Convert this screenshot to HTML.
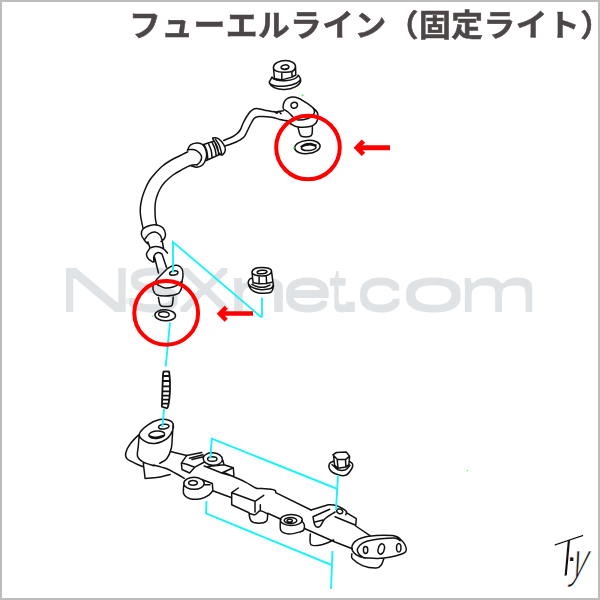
<!DOCTYPE html>
<html lang="ja">
<head>
<meta charset="utf-8">
<title>フューエルライン（固定ライト）</title>
<style>
html,body{margin:0;padding:0;background:#fff;}
body{width:600px;height:600px;overflow:hidden;position:relative;}
#frame{position:absolute;left:0;top:0;width:600px;height:600px;box-sizing:border-box;border:2px solid #bdbcbc;border-top-width:2px;}
#title{position:absolute;left:129px;top:4px;white-space:nowrap;font-family:"Liberation Sans","Noto Sans CJK JP",sans-serif;font-weight:700;font-size:30px;line-height:44px;letter-spacing:0.4px;color:#4c4647;-webkit-text-stroke:0.5px #4c4647;transform-origin:0 50%;transform:scale(1.06,1.02);}
#wm{position:absolute;left:0;top:0;width:600px;height:600px;font-family:"Liberation Sans",sans-serif;font-size:57.6px;line-height:57.6px;color:#dfe3e6;filter:url(#wmf);}
#wm span{position:absolute;top:261.9px;display:block;transform-origin:0 0;white-space:pre;}
#sig{position:absolute;left:0;top:0;width:600px;height:600px;font-family:"Liberation Sans",sans-serif;color:#111;}
#sig span{position:absolute;display:block;white-space:pre;transform-origin:0 100%;-webkit-text-stroke-color:#fff;}
#sig .t{left:548px;top:537px;font-size:55px;line-height:55px;-webkit-text-stroke-width:2.8px;transform:skewY(-18.5deg) skewX(-5.4deg);}
#sig .d{left:566px;top:538.5px;font-size:34px;line-height:34px;transform:none;}
#sig .y{left:566.5px;top:535px;font-size:50px;line-height:50px;-webkit-text-stroke-width:1.3px;transform:skewX(-16deg) scaleX(0.6);}
svg{position:absolute;left:0;top:0;}
</style>
</head>
<body>
<svg width="0" height="0" style="position:absolute"><defs><filter id="wmf" x="0" y="0" width="100%" height="100%" color-interpolation-filters="sRGB"><feMorphology operator="erode" radius="1 0"/><feMorphology operator="dilate" radius="0 1.7"/></filter></defs></svg>
<div id="wm" aria-label="NSXnet.com"><span style="left:56.2px;transform:scaleX(1.915)">N</span><span style="left:123.1px;transform:scaleX(1.556)">S</span><span style="left:177.3px;transform:scaleX(1.437)">X</span><span style="left:225.0px;transform:scaleX(2.078)">n</span><span style="left:280.7px;transform:scaleX(1.650)">e</span><span style="left:328.1px;transform:scaleX(1.231)">t</span><span style="left:335.0px;transform:scaleX(1.933)">.</span><span style="left:355.1px;transform:scaleX(1.675)">c</span><span style="left:400.2px;transform:scaleX(2.081)">o</span><span style="left:456.6px;transform:scaleX(1.725)">m</span></div>
<svg id="art" width="600" height="600" viewBox="0 0 600 600">
<!-- black line art -->
<g id="ink" fill="none" stroke="#111" stroke-width="1.5" stroke-linecap="round" stroke-linejoin="round" style="filter:blur(0.35px)">
<path id="fill_nut2" fill="#fff" stroke="none" d="M252 272.3C252.5 271.7 253.4 269.3 255 268.5C256.6 267.7 259.6 267.4 261.8 267.4C264.1 267.4 266.9 267.7 268.5 268.3C270.1 268.9 270.8 268.7 271.5 271.1C272.2 273.5 272.7 280.2 273 282.8C273.3 285.4 273.6 285 273.4 286.5C273.1 288 272.6 290.7 271.5 291.8C270.4 292.9 268.8 292.8 267 293C265.2 293.2 262.8 293.4 261 293.3C259.2 293.2 257.6 292.9 256 292.3C254.4 291.7 252.5 290.6 251.3 289.5C250.1 288.4 249.5 287.2 249 286C248.5 284.8 248.2 283.2 248.3 282C248.4 280.8 249.1 279.7 249.8 279C250.5 278.3 252.1 279.1 252.5 278C252.9 276.9 252.1 273.2 252 272.3"/>
<path id="fill_banjo2" fill="#fff" stroke="none" d="M157 279C158.7 277.3 164.5 271.2 167 269C169.5 266.8 170.2 266.6 172 266C173.8 265.4 176.3 265 178 265.5C179.7 266 181.2 267.4 182 269C182.8 270.6 183 273 183 275C183 277 182.7 279.5 182 281C181.3 282.5 180.5 283 179 284C177.5 285 175.3 286.3 173 287C170.7 287.7 167.5 288.3 165 288C162.5 287.7 159.5 285.8 158 285C156.5 284.2 156.2 284 156 283C155.8 282 156.8 279.7 157 279"/>
<path id="nut1"  d="M273.4 67.3C273.6 65.9 275.2 63.5 277.3 62.4C279.4 61.3 283.1 60.6 285.7 60.6C288.3 60.6 291.1 61.4 292.7 62.4C294.3 63.4 295.6 65.1 295.5 66.6C295.4 68.1 294.1 70.6 292 71.5C289.9 72.4 285.6 72.3 282.9 72.2C280.2 72.1 277.5 71.6 275.9 70.8C274.3 70 273.2 68.7 273.4 67.3ZM281.1 67.7A3.9 2.3 -8 1 0 288.9 66.7A3.9 2.3 -8 1 0 281.1 67.7ZM273.4 67.3L274.5 78.5L281.8 79.9L292 77.1L295.8 75L295.5 66.6M281.8 72.9L281.8 79.9M292 71.5L292 77.1M272 77.1A13.4 5.6 -5 0 0 298.3 75.2M269.2 82.2A15.8 6.2 -6 0 0 300.5 78.6L298.3 75.2M269.2 82.2A15.9 8.9 -4 0 0 300.7 81L300.5 78.6M272 77.1L269.2 82.2M281.5 68.2C281.9 68.4 283 69.1 284 69.2C285 69.3 286.9 68.7 287.5 68.6"/>
<path id="banjo1"  d="M283.5 109C282.8 107.7 283 105.7 283.5 104C284 102.3 285.1 100.2 286.5 99C287.9 97.8 290.1 97.2 292 97C293.9 96.8 295.8 97.2 298 98C300.2 98.8 302.7 100.5 305 102C307.3 103.5 310.4 105.5 312 107C313.6 108.5 314.3 109.7 314.5 111C314.7 112.3 314.1 113.8 313 115C311.9 116.2 310.5 117.7 308 118.5C305.5 119.3 300.5 120.2 298 120C295.5 119.8 294.7 118.3 293 117C291.3 115.7 289.6 113.3 288 112C286.4 110.7 284.2 110.3 283.5 109ZM312 107C312.8 107.8 316 110.3 317 112C318 113.7 318.2 115.2 318 117C317.8 118.8 317.3 121.4 316 123C314.7 124.6 313 125.8 310 126.5C307 127.2 301.2 127.4 298 127C294.8 126.6 292.9 125.1 291 124C289.1 122.9 287.2 121.1 286.5 120.5M291.1 106.3A3.3 2.7 -20 1 0 297.3 104.1A3.3 2.7 -20 1 0 291.1 106.3ZM298.1 127.7C298.4 128.8 299.2 132.8 299.9 134.3C300.6 135.8 300.5 136.1 302.1 136.5C303.7 136.9 307.9 136.9 309.5 136.5C311.1 136.1 311.5 135.9 312 134.3C312.5 132.7 312.3 128.1 312.4 126.9M294.7 148.1A12.7 6.6 -5 1 0 320.1 145.9A12.7 6.6 -5 1 0 294.7 148.1ZM301.4 148.1A7.3 2.8 -3 1 0 316 147.3A7.3 2.8 -3 1 0 301.4 148.1ZM301 146.5C301.7 146.1 303.5 144.8 305 144.3C306.5 143.8 308.2 143.5 310 143.6C311.8 143.7 315 144.8 316 145"/>
<path id="pipe"  d="M223.7 140.5C225.1 139.9 229.9 138.1 232 137C234.1 135.9 235.1 135.2 236.5 134C237.9 132.8 239 132 240.2 130C241.4 128 242.1 124.7 243.7 121.8C245.2 118.9 248 114.5 249.5 112.5C251 110.5 251.3 110.5 252.5 109.8C253.7 109.1 254.5 108.3 256.5 108.4C258.5 108.5 261.6 109.6 264.7 110.2C267.8 110.8 272.1 111.8 275.2 111.9C278.3 112 281.9 111 283.3 110.8M225.3 145.9C226.2 145.6 229.1 144.7 231 144C232.9 143.3 235 142.5 236.7 141.7C238.4 140.9 239.7 140.3 241 139.3C242.3 138.3 243.4 137.9 244.8 135.8C246.2 133.7 247.9 129.4 249.5 126.5C251.1 123.6 252.6 120 254.2 118.3C255.8 116.6 255.9 116.8 258.8 116.6C261.7 116.4 268.2 116.7 271.7 117.2C275.2 117.7 277.1 118.8 279.8 119.5C282.5 120.2 286.2 120.6 288 121.3C289.8 122 290.1 123.1 290.5 123.5M274 111.5L277 113.3L279 111.3L281 113.8"/>
<path id="crimp1"  d="M187.4 150.5C187.9 149.6 188.7 146.3 190.3 145.1C191.9 143.8 194.9 143.1 197 143C199.1 142.9 201.3 143.3 202.8 144.7C204.3 146.1 205.6 149.1 206.2 151.3C206.8 153.5 206.8 155.8 206.2 158C205.6 160.2 204.3 163.2 202.8 164.7C201.3 166.2 198.9 167 197 167.2C195.1 167.4 192.4 166.2 191.5 166M188.7 149.7C189.7 149.7 192.7 149.1 194.5 149.7C196.3 150.2 198.3 151.8 199.5 153C200.7 154.2 201.5 155.7 201.6 157.2C201.7 158.7 200.7 160.9 199.9 162.2C199.1 163.4 197.5 164.3 197 164.7M202.8 144.7L213.7 141.3M206.2 160.5L221.2 153.8M204.5 145.5C204.9 146.6 206.4 149.6 207 152C207.6 154.4 207.7 158.4 207.8 159.7M208.7 144.3C209.1 145.3 210.6 148.3 211.2 150.5C211.8 152.7 211.9 156.4 212 157.6M212.4 143C212.8 144 214.4 146.9 215 149C215.6 151.1 216 154.4 216.2 155.5M215 142.2C215.4 143.2 217 146 217.6 148C218.2 150 218.5 153.2 218.7 154.3M212.8 138C213.5 137.6 216.9 137.7 218.7 138.8C220.5 139.9 222.6 142.9 223.7 144.7C224.8 146.5 225.5 148 225.3 149.7C225.2 151.4 223.8 154 222.8 154.7C221.8 155.4 220.5 154.9 219.5 153.8C218.5 152.7 217.8 150.1 217 148C216.2 145.9 215.2 143.2 214.5 141.5C213.8 139.8 212.1 138.4 212.8 138ZM215.5 139.3C216.2 140.4 218.5 143.6 219.5 146C220.5 148.4 221.2 152.2 221.6 153.5"/>
<path id="hose"  d="M187.8 151.8C186.8 152.3 184.9 153.2 182 154.7C179.1 156.1 173.8 158.6 170.5 160.5C167.2 162.4 164.7 164.2 162.2 166.3C159.7 168.4 157.7 170.6 155.5 173C153.3 175.4 151 178.2 149.2 181C147.4 183.8 146 187 144.8 190C143.6 193 142.6 196 141.8 199C141.1 202 140.5 205.2 140.3 208C140.1 210.8 140.2 212.7 140.6 216C141 219.3 142.6 226 143 228M197 164.7C195.9 164.8 192.8 164.7 190.3 165.5C187.8 166.3 184.9 168.1 182 169.7C179.1 171.3 175.8 172.9 173 175C170.2 177.1 167.2 179.7 165 182C162.8 184.3 161.3 186.7 160 189C158.7 191.3 157.8 193.7 157 196C156.2 198.3 155.6 200.7 155.3 203C155 205.3 155 207.5 155 210C155 212.5 155.1 215.5 155.3 218C155.6 220.5 156.3 223.8 156.5 225"/>
<path id="crimp2"  d="M148 244C147.5 243.5 146.1 242.5 145 241C143.9 239.5 141.8 237 141.5 235C141.2 233 141.6 230.6 143 229C144.4 227.4 147.7 226.2 150 225.5C152.3 224.8 154.8 224.6 157 225C159.2 225.4 161.6 226.5 163 228C164.4 229.5 165.3 232.2 165.5 234C165.7 235.8 164.8 237.8 164 239C163.2 240.2 161.5 241.1 161 241.5M145 239C145.7 238.2 147.3 235.2 149 234C150.7 232.8 153.2 231.8 155 232C156.8 232.2 158.8 233.7 160 235C161.2 236.3 161.7 239.2 162 240M148 242L150 248M162 240L163.5 248M150 248C151 247.8 153.8 246.4 156 246.5C158.2 246.6 161.1 247.4 163 248.5C164.9 249.6 166.8 252.2 167.5 253M150 248C149.4 249 146.8 252.2 146.5 254C146.2 255.8 147.4 257.7 148.5 259C149.6 260.3 152.2 261.5 153 262M154 262C154 261 153.3 257.6 154 256C154.7 254.4 156.7 252.8 158 252.5C159.3 252.2 161.3 253.8 162 254M154.5 257L158.5 273M162 254L166.5 267.5"/>
<path id="banjo2"  d="M167 269C167.8 268.5 170.2 266.6 172 266C173.8 265.4 176.3 265 178 265.5C179.7 266 181.2 267.4 182 269C182.8 270.6 183 272.8 183 275C183 277.2 182.2 279.8 182 282C181.8 284.2 182 286.2 181.5 288C181 289.8 180.2 291.8 179 293C177.8 294.2 174.8 294.7 174 295M157 279L167 269M157 279C156.3 280.2 153.5 283.8 153 286C152.5 288.2 153.3 290.5 154 292C154.7 293.5 155.2 294.3 157 295C158.8 295.7 162.2 296 165 296C167.8 296 172.5 295.2 174 295M156 283C156.3 283.3 156.5 284.2 158 285C159.5 285.8 162.5 287.7 165 288C167.5 288.3 170.7 287.7 173 287C175.3 286.3 177.5 285 179 284C180.5 283 181.5 281.5 182 281M169.6 273.6A4.2 2.1 -8 1 0 178 272.4A4.2 2.1 -8 1 0 169.6 273.6ZM158.4 297.5C158.8 298.8 159.2 304 160.5 305.5C161.8 307 164.1 306.5 166 306.5C167.9 306.5 170.6 307.1 171.8 305.5C173 303.9 173 298.4 173.2 297M154.9 314.8A10.3 5.5 3 1 0 175.5 315.8A10.3 5.5 3 1 0 154.9 314.8ZM158.6 314.1A5.3 2.7 3 1 0 169.2 314.7A5.3 2.7 3 1 0 158.6 314.1Z"/>
<path id="nut2"  d="M252 272.3C252 271.2 253.4 269.3 255 268.5C256.6 267.7 259.6 267.4 261.8 267.4C264.1 267.4 266.9 267.7 268.5 268.3C270.1 268.9 271.5 270 271.5 271.1C271.5 272.2 270.1 274 268.5 274.8C266.9 275.6 264.1 276 261.8 276C259.6 276 256.6 275.6 255 275C253.4 274.4 252 273.4 252 272.3ZM257.2 272.3A4.9 1.8 -3 1 0 267 271.7A4.9 1.8 -3 1 0 257.2 272.3ZM252 272.3L253.1 282.8M259.1 276.8L259.1 283.5M266.3 276.8L266.6 283.5M271.5 271.1L273 282.8M253.1 282.8L259.1 283.8L266.6 283.5L273 282M252.5 278C252.1 278.2 250.5 278.3 249.8 279C249.1 279.7 248.4 280.8 248.3 282C248.2 283.2 248.5 284.8 249 286C249.5 287.2 250.1 288.4 251.3 289.5C252.5 290.6 254.4 291.7 256 292.3C257.6 292.9 259.2 293.2 261 293.3C262.8 293.4 265.2 293.2 267 293C268.8 292.8 270.4 292.9 271.5 291.8C272.6 290.7 273.1 288 273.4 286.5C273.6 285 273.1 283.4 273 282.8M252 284.3C252.7 284.6 254.5 285.8 256 286.3C257.5 286.8 259.3 287.2 261 287.3C262.7 287.4 264.5 287.2 266 286.8C267.5 286.4 269.3 285.3 270 285M249 284.5C249.4 284.9 250.1 286.1 251.3 286.8C252.5 287.5 254.4 288.3 256 288.8C257.6 289.3 259.2 289.6 261 289.7C262.8 289.8 265.2 289.6 267 289.3C268.8 289 270.4 288.7 271.5 288C272.6 287.3 273 285.5 273.3 285"/>
<path id="stud" stroke-width="1.8" d="M161.9 406.6C162 403.8 162.2 395.6 162.4 390C162.6 384.4 162.8 376.3 163.2 373.2C163.6 370.1 164 371.9 164.8 371.6C165.6 371.3 167.1 371.3 167.8 371.6C168.6 371.9 168.9 370.2 169.3 373.2C169.7 376.2 170.2 383.9 170 389.5C169.8 395.1 168.8 403.6 168 406.6C167.2 409.6 166 407.6 165 407.6C164 407.6 162.4 406.8 161.9 406.6M163.1 376L169.5 376M162.9 381L169.8 381M162.6 386.3L170 386.3M162.4 391.4L170 391.4M162.2 395.6L169.6 395.6M162.1 399.7L169 399.7M162 403.6L168.4 403.6"/>
<path id="rail_cyl"  d="M139.3 434.2C139.9 431.5 144.6 427.2 148 424.8C151.4 422.4 156.2 420.4 159.7 419.6C163.2 418.8 166.8 419.5 169 420.2C171.2 420.9 172.5 421.9 173.1 423.7C173.7 425.4 173.6 428.2 172.5 430.7C171.4 433.2 169.6 436.7 166.7 438.8C163.8 440.9 158.7 443.1 155 443.5C151.3 443.9 147.1 442.8 144.5 441.2C141.9 439.6 138.7 436.9 139.3 434.2ZM158.5 427.1A5.2 2.3 -5 1 0 169 426.1A5.2 2.3 -5 1 0 158.5 427.1ZM148.9 435.4A7.9 3.4 -5 1 0 164.6 434.1A7.9 3.4 -5 1 0 148.9 435.4ZM150 436C151 436.2 153.8 437.4 156 437.3C158.2 437.2 161.8 435.8 163 435.5M139.3 434.2C139.1 436.2 138.6 442.3 138.3 446C138 449.7 136.7 453.6 137.5 456.3C138.3 459 140.6 460.6 143.3 462.2C146 463.8 152.1 465.1 153.8 465.7M173.1 423.7C173 425.9 172.6 432.9 172.3 437C172 441.1 172.2 444.6 171.3 448.2C170.4 451.8 168.6 456.2 166.7 458.7C164.8 461.2 160.9 462.5 159.7 463.3M139.3 434.2C137.8 435.8 132.8 440.4 130.5 443.5C128.2 446.6 126.4 450.3 125.8 452.8C125.2 455.3 125.4 456.9 127 458.7C128.6 460.4 132.5 461.9 135.2 463.3C137.9 464.7 142 466.2 143.3 466.8M143.3 463.3L145.1 478.5M145.1 478.5C147.3 478.3 154.3 478 158.5 477.3C162.7 476.6 168.2 474.9 170.2 474.4M171.3 451.7L186.7 455.6M153.8 465.1C155.8 465.6 162 467 165.5 468.3C169 469.6 171.9 471.3 175 473C178.1 474.7 182.8 477.4 184.3 478.3"/>
<path id="rail_lug1"  d="M203.2 458.2A9.6 6.2 5 1 0 222.4 459.8A9.6 6.2 5 1 0 203.2 458.2ZM207.6 459A4.7 2.3 0 1 0 217 459A4.7 2.3 0 1 0 207.6 459ZM186.7 455.6L201.8 452.6M189.5 458.3L203 454.8M192 459.5L203.5 456.8M181.4 463.1L182 469.5L189.6 473L194.8 467.2L186.7 464.3ZM181.4 463.1L186.7 455.6M194.8 467.2L204.5 462M222.8 460.2L224 464.8L233.3 467.8L233.9 475.3M204.2 466L221.7 473L233.9 476.5M208 466.5L224 464.8M221.7 473L233.3 467.8M224 472.5C227.5 474.1 239.7 479.2 245 481.8C250.3 484.4 252.9 486.9 255.7 488C258.5 489.1 258.9 488.3 262 488.6C265.1 488.9 272 489.3 274.3 490C276.6 490.7 275.5 492.2 275.7 492.7M275.7 492.7L311 510"/>
<path id="rail_lug2"  d="M183.8 483.3A10.2 6 0 1 0 204.2 483.3A10.2 6 0 1 0 183.8 483.3ZM188.6 482.9A4.4 2.3 0 1 0 197.4 482.9A4.4 2.3 0 1 0 188.6 482.9ZM200 478.8L212.3 483.5L212.9 490.5M183.8 484.7C183.8 486.2 182.7 491.7 183.8 494C184.8 496.3 187.4 497.9 190.2 498.7C193 499.5 197.6 499.3 200.7 498.7C203.8 498.1 206.8 496.6 208.8 495.2C210.8 493.8 212.2 491.3 212.9 490.5M204.2 484.7L210 484.7M213.5 491L231 497.5"/>
<path id="rail_block"  d="M238.3 488L231.7 492.7L255 501.3L263.7 495.3M231.7 492.7L231.7 504.7L249 512.7M255 501.3L255 512M260.3 504.7L260.3 510M249 513.3C249.3 514.5 249.4 519 251 520.7C252.6 522.4 255.8 523.2 258.3 523.3C260.9 523.4 264.7 522.8 266.3 521.3C267.9 519.8 267.5 515.2 267.7 514M249 513.3C250 513.5 253.1 515.1 255 514.7C256.9 514.3 258.2 510.8 260.3 510.7C262.4 510.6 266.5 513.5 267.7 514M267.7 513.3L281 519.3"/>
<path id="rail_lug3"  d="M280.3 520A11 5.5 0 1 0 302.3 520A11 5.5 0 1 0 280.3 520ZM284.2 520.5A6.3 3 0 1 0 296.8 520.5A6.3 3 0 1 0 284.2 520.5ZM287 520.7A2.7 1.5 0 1 0 292.4 520.7A2.7 1.5 0 1 0 287 520.7ZM280.3 521.3C280.4 522.9 279.6 528.6 281 530.7C282.4 532.8 285.9 533.8 289 534C292.1 534.2 297.2 532.7 299.7 532C302.1 531.3 302.9 531.2 303.7 530C304.5 528.8 304.6 526.2 304.3 524.7C304 523.2 302.1 521.4 301.7 520.7M305 528.7L335 542L352.3 548.7M310.3 534C310.4 535.8 309.1 542.9 311 544.7C312.9 546.5 317.9 545.5 321.7 544.7C325.5 543.9 331.7 540.8 333.7 540"/>
<path id="rail_lug4"  d="M311 510L328.3 504.7M328.3 504.7C329.2 504.8 332.2 504.7 334 505C335.8 505.3 336.9 505.6 339 506.7C341.1 507.8 345.2 510 346.3 511.3C347.4 512.6 345.8 514.1 345.7 514.7M313 516.7L329.7 509.3M313 516.7C313.3 518.1 313.9 523.6 315 525.3C316.1 527 318 527.8 319.7 526.7C321.4 525.6 322.4 521.2 325 518.7C327.6 516.2 333.3 513.1 335 512M315 522L323 520M336.9 510.3A3 2 20 1 0 342.5 512.3A3 2 20 1 0 336.9 510.3ZM346.3 512.7L356.3 518.7L355.7 525.3M335 516.7L355.7 525.3M355.7 526L370 535.6"/>
<path id="rail_end"  d="M351.9 548.8C351.5 546.1 353.4 542.7 356.2 540.6C359.1 538.5 362.7 537.1 368.8 536.2C374.8 535.4 387.1 535 392.5 535.6C397.9 536.2 399 537.8 401.2 540C403.5 542.2 406 546.5 406.2 548.8C406.5 551 406.2 552.2 402.5 553.8C398.8 555.3 389.4 557.4 383.8 558.1C378.1 558.8 372.9 558.4 368.8 558.1C364.6 557.8 361.6 557.8 358.8 556.2C355.9 554.7 352.3 551.4 351.9 548.8ZM364 558C363.1 557.3 359.8 555.3 358.8 553.8C357.7 552.2 356.9 550.5 357.5 548.8C358.1 547 360 544.6 362.5 543.1C365 541.6 367.3 540.8 372.5 540C377.7 539.2 389.2 538 393.8 538.1C398.3 538.2 399 540.2 400 540.6M363.4 550A2.2 3.4 0 1 0 367.8 550A2.2 3.4 0 1 0 363.4 550ZM378.4 548.2A3 4.5 15 1 0 384.1 549.8A3 4.5 15 1 0 378.4 548.2ZM396.6 547.8A2.2 3.5 0 1 0 400.9 547.8A2.2 3.5 0 1 0 396.6 547.8ZM351.9 553.8C352 554.6 350.7 556.8 352.5 558.8C354.3 560.7 358.5 564 362.5 565.6C366.5 567.2 373.1 568.2 376.2 568.1C379.4 568 380 566.6 381.2 565C382.5 563.4 383.3 559.8 383.8 558.8"/>
<path id="bolt"  d="M332.8 454.8L336.5 452.5L346.2 452.1L349.6 456.2L345.5 459.6L337.2 459.2ZM333.5 455.5L334.6 465.2L338 468.2L345.9 467.1L348.9 464.5L349.6 456.2M337.2 459.2L338 468.2M345.5 459.6L345.9 467.1M333.5 461.1C332.8 461.5 329.9 462.2 329.4 463.8C328.9 465.3 328.9 468.6 330.5 470.5C332.1 472.4 336.1 474.2 338.8 475C341.4 475.8 344.1 476 346.2 475C348.4 474 350.4 470.8 351.5 469C352.6 467.2 353 465.4 352.6 464.1C352.2 462.8 349.8 461.6 349.2 461.1M332 464.5C333 465.4 335.8 468.9 338 469.8C340.2 470.6 343.5 470.5 345.5 469.8C347.5 469 349.2 466 350 465.2"/>
</g>
<!-- cyan guide lines -->
<g id="cyan" fill="none" stroke="#1df3f7" stroke-width="1.9" stroke-linecap="butt" stroke-linejoin="miter" style="filter:blur(0.3px)">
<path d="M173 272.5V242L261.3 317.2"/>
<path d="M262 297.5V317.6"/>
<path d="M170 322.5L165.7 366.5"/>
<path d="M164 409L162.4 427"/>
<path d="M210.3 458.5L211.8 438.6L337.5 489"/>
<path d="M338 475L336 510"/>
<path d="M206.5 501L206 513.4L331.6 565"/>
<path d="M332.5 551L331 589"/>
</g>
<g id="specks" fill="#62ee62"><circle cx="302.6" cy="95.3" r="1.1"/><circle cx="293.8" cy="147.8" r="1"/><circle cx="152.6" cy="316.3" r="0.8"/><circle cx="467.3" cy="470.5" r="0.7"/></g>
<!-- red marks -->
<g id="red" fill="none" stroke="#ff0000">
<circle cx="308" cy="147.5" r="31.8" stroke-width="4"/>
<circle cx="166.2" cy="312.9" r="31.9" stroke-width="4"/>
<path d="M390 147.7H357.5" stroke-width="5"/>
<path d="M363.4 141.2L357 147.8L363.4 154.4" stroke-width="4.8" stroke-linejoin="miter"/>
<path d="M253 313.4H220.5" stroke-width="4.5"/>
<path d="M226.2 307.2L219.9 313.7L226.2 320.2" stroke-width="4.5" stroke-linejoin="miter"/>
</g>
</svg>
<div id="title">フューエルライン（固定ライト）</div>
<div id="sig" aria-label="T·y"><span class="t">T</span><span class="d">·</span><span class="y">y</span></div>
<div id="frame"></div>
</body>
</html>
